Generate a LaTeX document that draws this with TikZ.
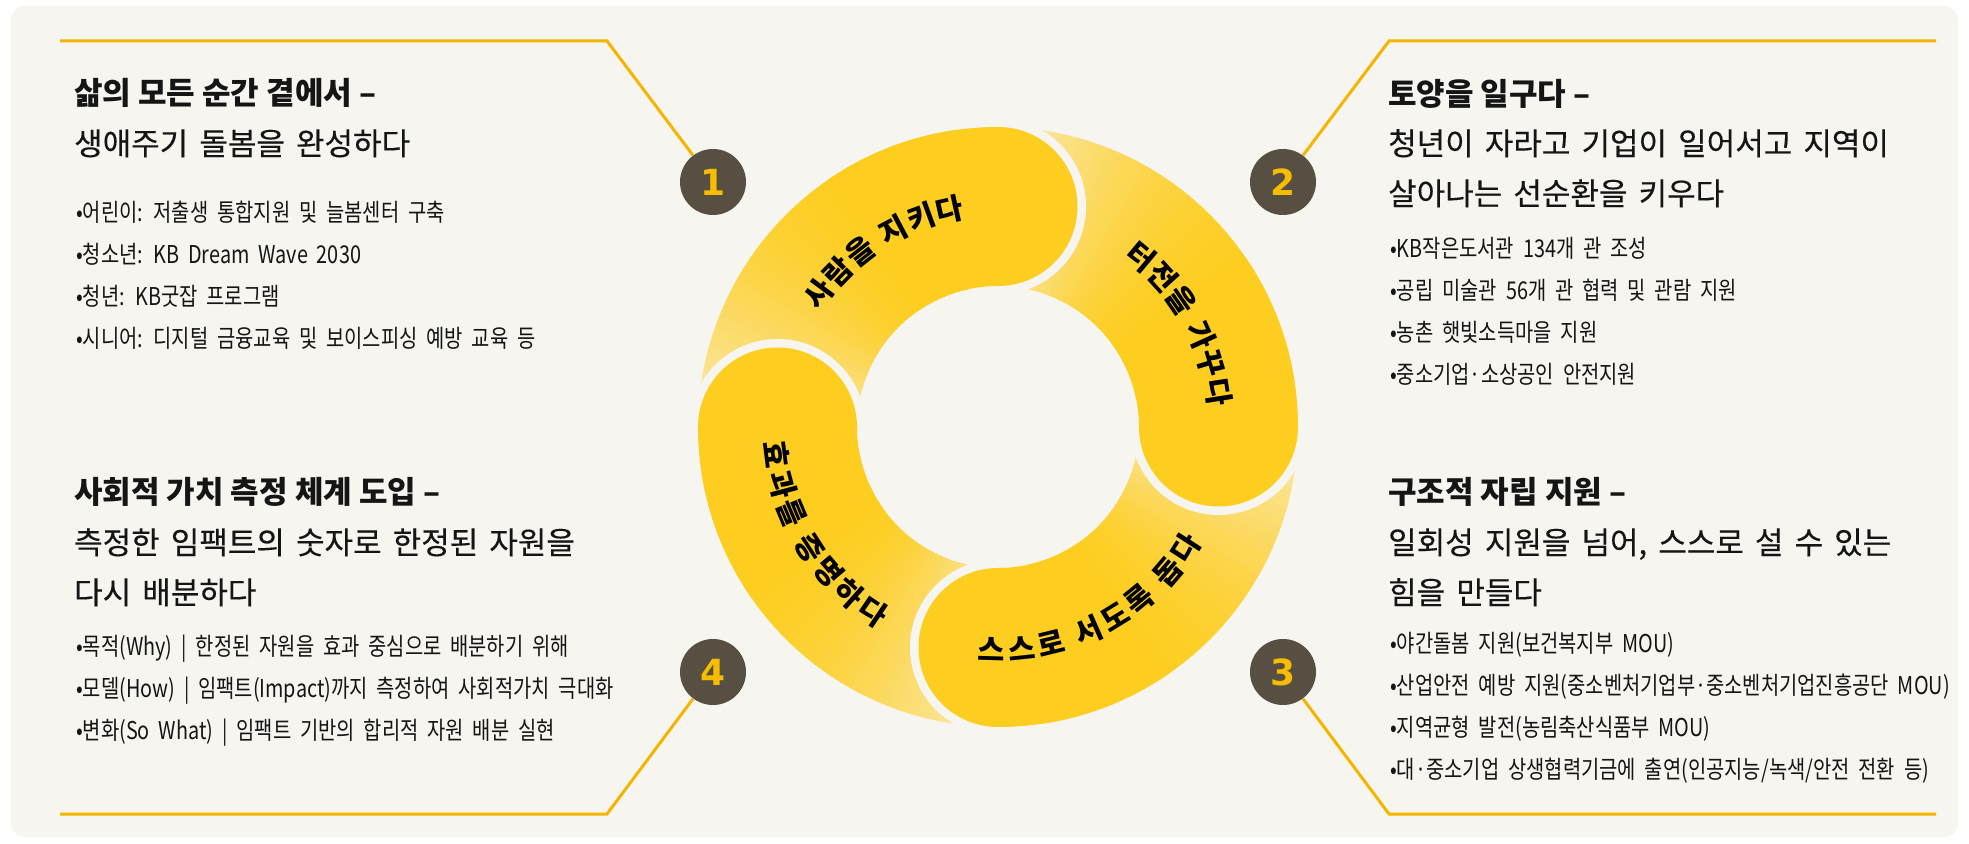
\documentclass[tikz,border=0pt]{standalone}
\usepackage{fontspec}
\setmainfont{Noto Sans CJK KR}
\newfontfamily\kr[WordSpace=1.6]{Noto Sans CJK KR}
\newfontfamily\krr{Noto Sans CJK KR}
\newfontfamily\krm[WordSpace=1.6,FakeBold=0.3]{Noto Sans CJK KR}
\newfontfamily\krc[FakeStretch=0.81,WordSpace=2.0]{Noto Sans CJK KR}
\newfontfamily\numf{DejaVu Sans}
\usetikzlibrary{calc}
\definecolor{bgpanel}{HTML}{F7F5F0}
\definecolor{ysolid}{HTML}{FDCD1F}
\definecolor{ypale}{HTML}{F9EDC4}
\definecolor{lineY}{HTML}{F5B400}
\definecolor{numbg}{HTML}{575042}
\definecolor{numfg}{HTML}{F5BC00}
\definecolor{ink}{HTML}{151515}
\tikzset{
 ttl/.style={anchor=base west, inner sep=0pt, text=ink, font=\kr\bfseries\fontsize{31}{36}\selectfont},
 sub/.style={anchor=base west, inner sep=0pt, text=ink, font=\krm\fontsize{31}{36}\selectfont},
 bul/.style={anchor=base west, inner sep=0pt, text=ink, font=\krc\fontsize{24.5}{27}\selectfont},
 numc/.style={circle, fill=numbg, minimum size=66pt, inner sep=0pt, text=numfg, font=\numf\bfseries\fontsize{36}{36}\selectfont},
 guide/.style={draw=lineY, line width=3pt},
 ringch/.style={inner sep=0pt, text=black, text height=24pt, text depth=1.5pt, font=\krr\bfseries\fontsize{29.5}{29.5}\selectfont},
}
\begin{document}
\begin{tikzpicture}[x=1pt,y=1pt]
\useasboundingbox (0,0) rectangle (1969,843);
\fill[white] (0,0) rectangle (1969,843);
\fill[bgpanel, rounded corners=14pt] (11,6) rectangle (1958,837);
\coordinate (C) at (998,416);
% gradient bodies
\foreach \h in {90,0,-90,180} {
  \foreach \i in {44,...,0} {
    \pgfmathsetmacro\angA{\h+2*\i}
    \pgfmathsetmacro\angB{\angA+2.6}
    \pgfmathsetmacro\ff{max(0,((\i+0.5)/45-0.3)/0.7)}
    \pgfmathtruncatemacro\pp{100*(1-\ff*\ff)}
    \draw[line width=159pt, draw=ysolid!\pp!ypale] ($(C)+(\angA:220.5)$) arc[start angle=\angA, end angle=\angB, radius=220.5];
  }
}
% heads
\foreach \h in {90,0,-90,180} {
  \fill[bgpanel] ($(C)+(\h:220.5)$) circle[radius=88];
  \draw[line width=159pt, draw=ysolid] ($(C)+(\h:220.5)$) arc[start angle=\h, end angle=\h+35, radius=220.5];
  \fill[ysolid] ($(C)+(\h:220.5)$) circle[radius=79.5];
}
% ring labels
\foreach \ch/\ang [count=\k] in {사/143.5, 람/135.8, 을/128.1, 지/117.9, 키/110.2, 다/102.5}
  \node[ringch, rotate=\ang-90] (ra\k) at ($(C)+(\ang:223)$) {\ch};
\foreach \ch/\ang [count=\k] in {터/50.0, 전/42.3, 을/34.6, 가/24.4, 꾸/16.7, 다/9.0}
  \node[ringch, rotate=\ang+-90] (rb\k) at ($(C)+(\ang:223)$) {\ch};
\foreach \ch/\ang [count=\k] in {스/268.3, 스/276.0, 로/283.7, 서/293.9, 도/301.6, 록/309.3, 돕/319.5, 다/327.2}
  \node[ringch, rotate=\ang+90] (rc\k) at ($(C)+(\ang:223)$) {\ch};
\foreach \ch/\ang [count=\k] in {효/187.2, 과/194.9, 를/202.6, 증/212.8, 명/220.5, 하/228.2, 다/235.9}
  \node[ringch, rotate=\ang+90] (rd\k) at ($(C)+(\ang:223)$) {\ch};
% number circles
\node[numc] (n1) at (713,661) {1};
\node[numc] (n2) at (1283,661) {2};
\node[numc] (n3) at (1283,171) {3};
\node[numc] (n4) at (713,171) {4};
% guide lines
\coordinate (g1a) at (60,802);  \coordinate (g1b) at (607,802);
\coordinate (g2a) at (1936,802); \coordinate (g2b) at (1389,802);
\coordinate (g3a) at (1936,29);  \coordinate (g3b) at (1389,29);
\coordinate (g4a) at (60,29);   \coordinate (g4b) at (607,29);
\draw[guide] (g1a) -- (g1b) -- (n1);
\draw[guide] (g2a) -- (g2b) -- (n2);
\draw[guide] (g3a) -- (g3b) -- (n3);
\draw[guide] (g4a) -- (g4b) -- (n4);
% block 1
\node[ttl] (t1a) at (74,738) {삶의 모든 순간 곁에서 –};
\node[sub] (t1b) at (74,688) {생애주기 돌봄을 완성하다};
\node[bul] (b1a) at (76,621) {•어린이: 저출생 통합지원 및 늘봄센터 구축};
\node[bul] (b1b) at (76,579) {•청소년: KB Dream Wave 2030};
\node[bul] (b1c) at (76,537) {•청년: KB굿잡 프로그램};
\node[bul] (b1d) at (76,495) {•시니어: 디지털 금융교육 및 보이스피싱 예방 교육 등};
% block 2
\node[ttl] (t2a) at (1388,737) {토양을 일구다 –};
\node[sub] (t2b) at (1388,688) {청년이 자라고 기업이 일어서고 지역이};
\node[sub] (t2c) at (1388,638) {살아나는 선순환을 키우다};
\node[bul] (b2a) at (1390,585) {•KB작은도서관 134개 관 조성};
\node[bul] (b2b) at (1390,543) {•공립 미술관 56개 관 협력 및 관람 지원};
\node[bul] (b2c) at (1390,501) {•농촌 햇빛소득마을 지원};
\node[bul] (b2d) at (1390,459) {•중소기업·소상공인 안전지원};
% block 4
\node[ttl] (t4a) at (74,339) {사회적 가치 측정 체계 도입 –};
\node[sub] (t4b) at (74,289) {측정한 임팩트의 숫자로 한정된 자원을};
\node[sub] (t4c) at (74,239) {다시 배분하다};
\node[bul] (b4a) at (76,187) {•목적(Why) | 한정된 자원을 효과 중심으로 배분하기 위해};
\node[bul] (b4b) at (76,145) {•모델(How) | 임팩트(Impact)까지 측정하여 사회적가치 극대화};
\node[bul] (b4c) at (76,103) {•변화(So What) | 임팩트 기반의 합리적 자원 배분 실현};
% block 3
\node[ttl] (t3a) at (1388,339) {구조적 자립 지원 –};
\node[sub] (t3b) at (1388,289) {일회성 지원을 넘어, 스스로 설 수 있는};
\node[sub] (t3c) at (1388,239) {힘을 만들다};
\node[bul] (b3a) at (1390,190) {•야간돌봄 지원(보건복지부 MOU)};
\node[bul] (b3b) at (1390,148) {•산업안전 예방 지원(중소벤처기업부·중소벤처기업진흥공단 MOU)};
\node[bul] (b3c) at (1390,106) {•지역균형 발전(농림축산식품부 MOU)};
\node[bul] (b3d) at (1390,64) {•대·중소기업 상생협력기금에 출연(인공지능/녹색/안전 전환 등)};
\end{tikzpicture}
\end{document}
